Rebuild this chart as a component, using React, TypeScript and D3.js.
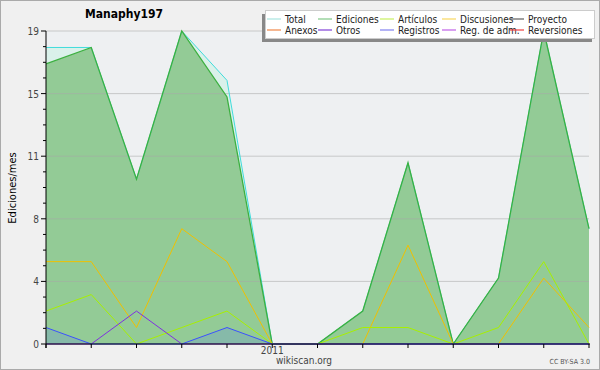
import React from "react";
import * as d3 from "d3";

const months = ["2010-08","2010-09","2010-10","2010-11","2010-12","2011-01","2011-02","2011-03","2011-04","2011-05","2011-06","2011-07","2011-08"];
const total = [18,18,10,19,16,0,0,2,11,0,4,19,7];
const edits = [17,18,10,19,15,0,0,2,11,0,4,19,7];
const articles = [2,3,0,1,2,0,0,1,1,0,1,5,0];
const discussions = [5,5,1,7,5,0,0,0,6,0,0,4,1];
const logs = [1,0,0,0,1,0,0,0,0,0,0,0,0];
const others = [0,0,2,0,0,0,0,0,0,0,0,0,0];
const yearLabels = [{ idx: 5, label: "2011" }];
const legendRow1 = [
  { name: "Total", color: "#a8e4e0" },
  { name: "Ediciones", color: "#80c888" },
  { name: "Artículos", color: "#c8f060" },
  { name: "Discusiones", color: "#f8d860" },
  { name: "Proyecto", color: "#606060" },
];
const legendRow2 = [
  { name: "Anexos", color: "#f08848" },
  { name: "Otros", color: "#8040d8" },
  { name: "Registros", color: "#8080f0" },
  { name: "Reg. de adm.", color: "#c060e8" },
  { name: "Reversiones", color: "#f04040" },
];
const legendCols = [267, 318, 380, 442, 510];

const FONT = "'DejaVu Sans Condensed', 'DejaVu Sans', sans-serif";

export default function App() {
  const W = 600, H = 370;
  const x = d3.scaleLinear().domain([0, months.length - 1]).range([46, 589]);
  const y = d3.scaleLinear().domain([0, 19]).range([344, 31]);
  const idx = months.map((_, i) => i);
  const line = (vals: number[]) =>
    d3.line<number>().x((i) => x(i)).y((i) => y(vals[i]))(idx) || "";
  const area = (vals: number[]) =>
    d3.area<number>().x((i) => x(i)).y0(y(0)).y1((i) => y(vals[i]))(idx) || "";
  const majors = d3.range(0, 6).map((k) => k * 3.8);
  const minors = d3.range(0, 21).map((k) => k * 0.95);

  return (
    <svg width={W} height={H} style={{ position: "absolute", left: 0, top: 0 }}>
      <rect x={0.5} y={0.5} width={W - 1} height={H - 1} fill="#f0f0f0" stroke="#aaaaaa" />
      <rect x={x(0)} y={y(19)} width={x(12) - x(0)} height={y(0) - y(19)} fill="#eef0f2" />
      {/* total area */}
      <path d={area(total)} fill="#daf1ea" />
      <path d={area(edits)} fill="#93cb96" />
      <path d={area(logs)} fill="#5070ff" fillOpacity={0.18} />
      {/* gridlines */}
      {majors.slice(1).map((v) => (
        <line key={v} x1={x(0)} x2={x(12)} y1={y(v)} y2={y(v)} stroke="#a8a8a8" strokeOpacity={0.55} />
      ))}
      <path d={line(total)} fill="none" stroke="#40dcdc" strokeWidth={1} />
      <path d={line(edits)} fill="none" stroke="#3cb040" strokeWidth={1.3} />
      <path d={line(discussions)} fill="none" stroke="#f0c000" strokeWidth={1} />
      <path d={line(articles)} fill="none" stroke="#a8f000" strokeWidth={1} />
      <path d={line(others)} fill="none" stroke="#8030e0" strokeWidth={1} />
      <path d={line(logs)} fill="none" stroke="#3c50ff" strokeWidth={1} />
      {/* axes */}
      <line x1={x(0)} x2={x(12) + 1} y1={y(0)} y2={y(0)} stroke="#000" />
      <line x1={x(0)} x2={x(0)} y1={y(19)} y2={y(0) + 4} stroke="#000" />
      {minors.map((v, k) => (
        <line key={k} x1={x(0) - (k % 4 === 0 ? 5 : 3)} x2={x(0)} y1={y(v)} y2={y(v)} stroke="#000" />
      ))}
      {majors.map((v) => (
        <text key={v} x={39} y={y(v) + 4} textAnchor="end" fontFamily={FONT} fontSize={10} fill="#444">
          {Math.round(v)}
        </text>
      ))}
      {idx.map((i) => (
        <line key={i} x1={x(i)} x2={x(i)} y1={y(0)} y2={y(0) + 4} stroke="#000" />
      ))}
      {yearLabels.map((d) => (
        <text key={d.label} x={x(d.idx)} y={354} textAnchor="middle" fontFamily={FONT} fontSize={10} fill="#444">
          {d.label}
        </text>
      ))}
      <text x={276} y={364} fontFamily={FONT} fontSize={10} fill="#444">wikiscan.org</text>
      <text x={590} y={364} textAnchor="end" fontFamily={FONT} fontSize={7} fill="#555">CC BY-SA 3.0</text>
      <text transform="translate(16,188) rotate(-90)" textAnchor="middle" fontFamily={FONT} fontSize={11} fill="#000">
        Ediciones/mes
      </text>
      <text x={85} y={18} fontFamily={FONT} fontSize={12} fontWeight="bold" fill="#000">Manaphy197</text>
      {/* legend */}
      <rect x={262} y={14} width={330} height={28} fill="#888" />
      <rect x={265.5} y={10.5} width={329} height={28} fill="#fff" stroke="#ccc" />
      {[legendRow1, legendRow2].map((row, r) =>
        row.map((d, c) => (
          <g key={d.name} transform={`translate(${legendCols[c]},${r === 0 ? 19 : 30})`}>
            <line x1={0} x2={14} y1={0} y2={0} stroke={d.color} strokeWidth={1.2} />
            <text x={18} y={4} fontFamily={FONT} fontSize={10} fill="#222">{d.name}</text>
          </g>
        ))
      )}
    </svg>
  );
}
